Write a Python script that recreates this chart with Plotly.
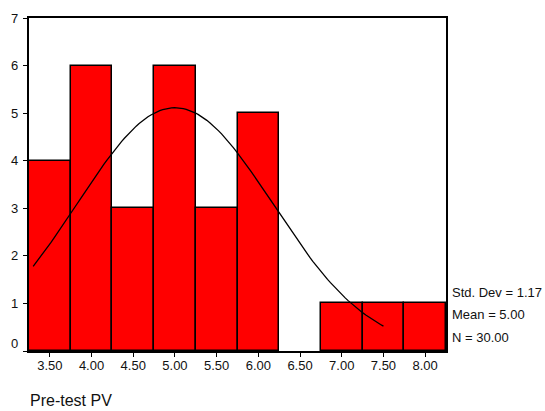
import numpy as np
import plotly.graph_objects as go

# Data
bin_centers = [3.5, 4.0, 4.5, 5.0, 5.5, 6.0, 6.5, 7.0, 7.5, 8.0]
counts = [4, 6, 3, 6, 3, 5, 0, 1, 1, 1]
tick_labels = ["3.50", "4.00", "4.50", "5.00", "5.50", "6.00", "6.50", "7.00", "7.50", "8.00"]
y_ticks = [0, 1, 2, 3, 4, 5, 6, 7]
stat_labels = ["Std. Dev = 1.17", "Mean = 5.00", "N = 30.00"]
std_dev = 1.17
mean = 5.00
n_obs = 30
bin_width = 0.5
curve_range = [3.3, 7.5]
x_title = "Pre-test PV"

FONT = "Liberation Sans, Arial, sans-serif"

fig = go.Figure()
fig.add_trace(go.Bar(
    x=bin_centers, y=counts, width=bin_width,
    marker=dict(color="#ff0000",
                line=dict(color="black", width=[1.5 if c > 0 else 0 for c in counts])),
    showlegend=False, hoverinfo="skip",
))

# Normal curve from the chart's own statistics
xc = np.linspace(curve_range[0], curve_range[1], 120)
yc = n_obs * bin_width / (std_dev * np.sqrt(2 * np.pi)) * np.exp(-0.5 * ((xc - mean) / std_dev) ** 2)
fig.add_trace(go.Scatter(x=xc, y=yc, mode="lines",
                         line=dict(color="black", width=1.3),
                         showlegend=False, hoverinfo="skip"))

fig.update_layout(
    width=545, height=411,
    margin=dict(l=29, r=99, t=18, b=60),
    paper_bgcolor="white", plot_bgcolor="white",
    font=dict(family=FONT, size=13, color="#111"),
    bargap=0,
    xaxis=dict(range=[3.25, 8.25], tickmode="array", tickvals=bin_centers, ticktext=tick_labels,
               showline=True, mirror=True, linecolor="black", linewidth=1.5,
               ticks="outside", ticklen=4, tickcolor="black", showgrid=False, zeroline=False,
               tickfont=dict(size=13), ticklabelstandoff=-2),
    yaxis=dict(range=[0, 7], tickmode="array", tickvals=y_ticks, showticklabels=False,
               showline=True, mirror=True, linecolor="black", linewidth=1.5,
               ticks="outside", ticklen=4, tickcolor="black", showgrid=False, zeroline=False),
)

# y tick labels (SPSS lifts the "0" label above the baseline)
for v in y_ticks:
    fig.add_annotation(text=str(v), xref="paper", x=0, xshift=-9, xanchor="right",
                       yref="y", y=v, yshift=8 if v == 0 else 0, yanchor="middle",
                       showarrow=False, font=dict(family=FONT, size=13, color="#111"))

stat_y = [1.235, 0.767, 0.277]
for txt, yy in zip(stat_labels, stat_y):
    fig.add_annotation(text=txt, xref="paper", x=1, xshift=4, xanchor="left",
                       yref="y", y=yy, yanchor="middle", showarrow=False,
                       font=dict(family=FONT, size=13, color="#111"))

fig.add_annotation(text=x_title, xref="paper", x=0, xanchor="left", xshift=-1,
                   yref="paper", y=0, yshift=-49, yanchor="middle", showarrow=False,
                   font=dict(family=FONT, size=16, color="#111"))

fig.write_html("out.html")
